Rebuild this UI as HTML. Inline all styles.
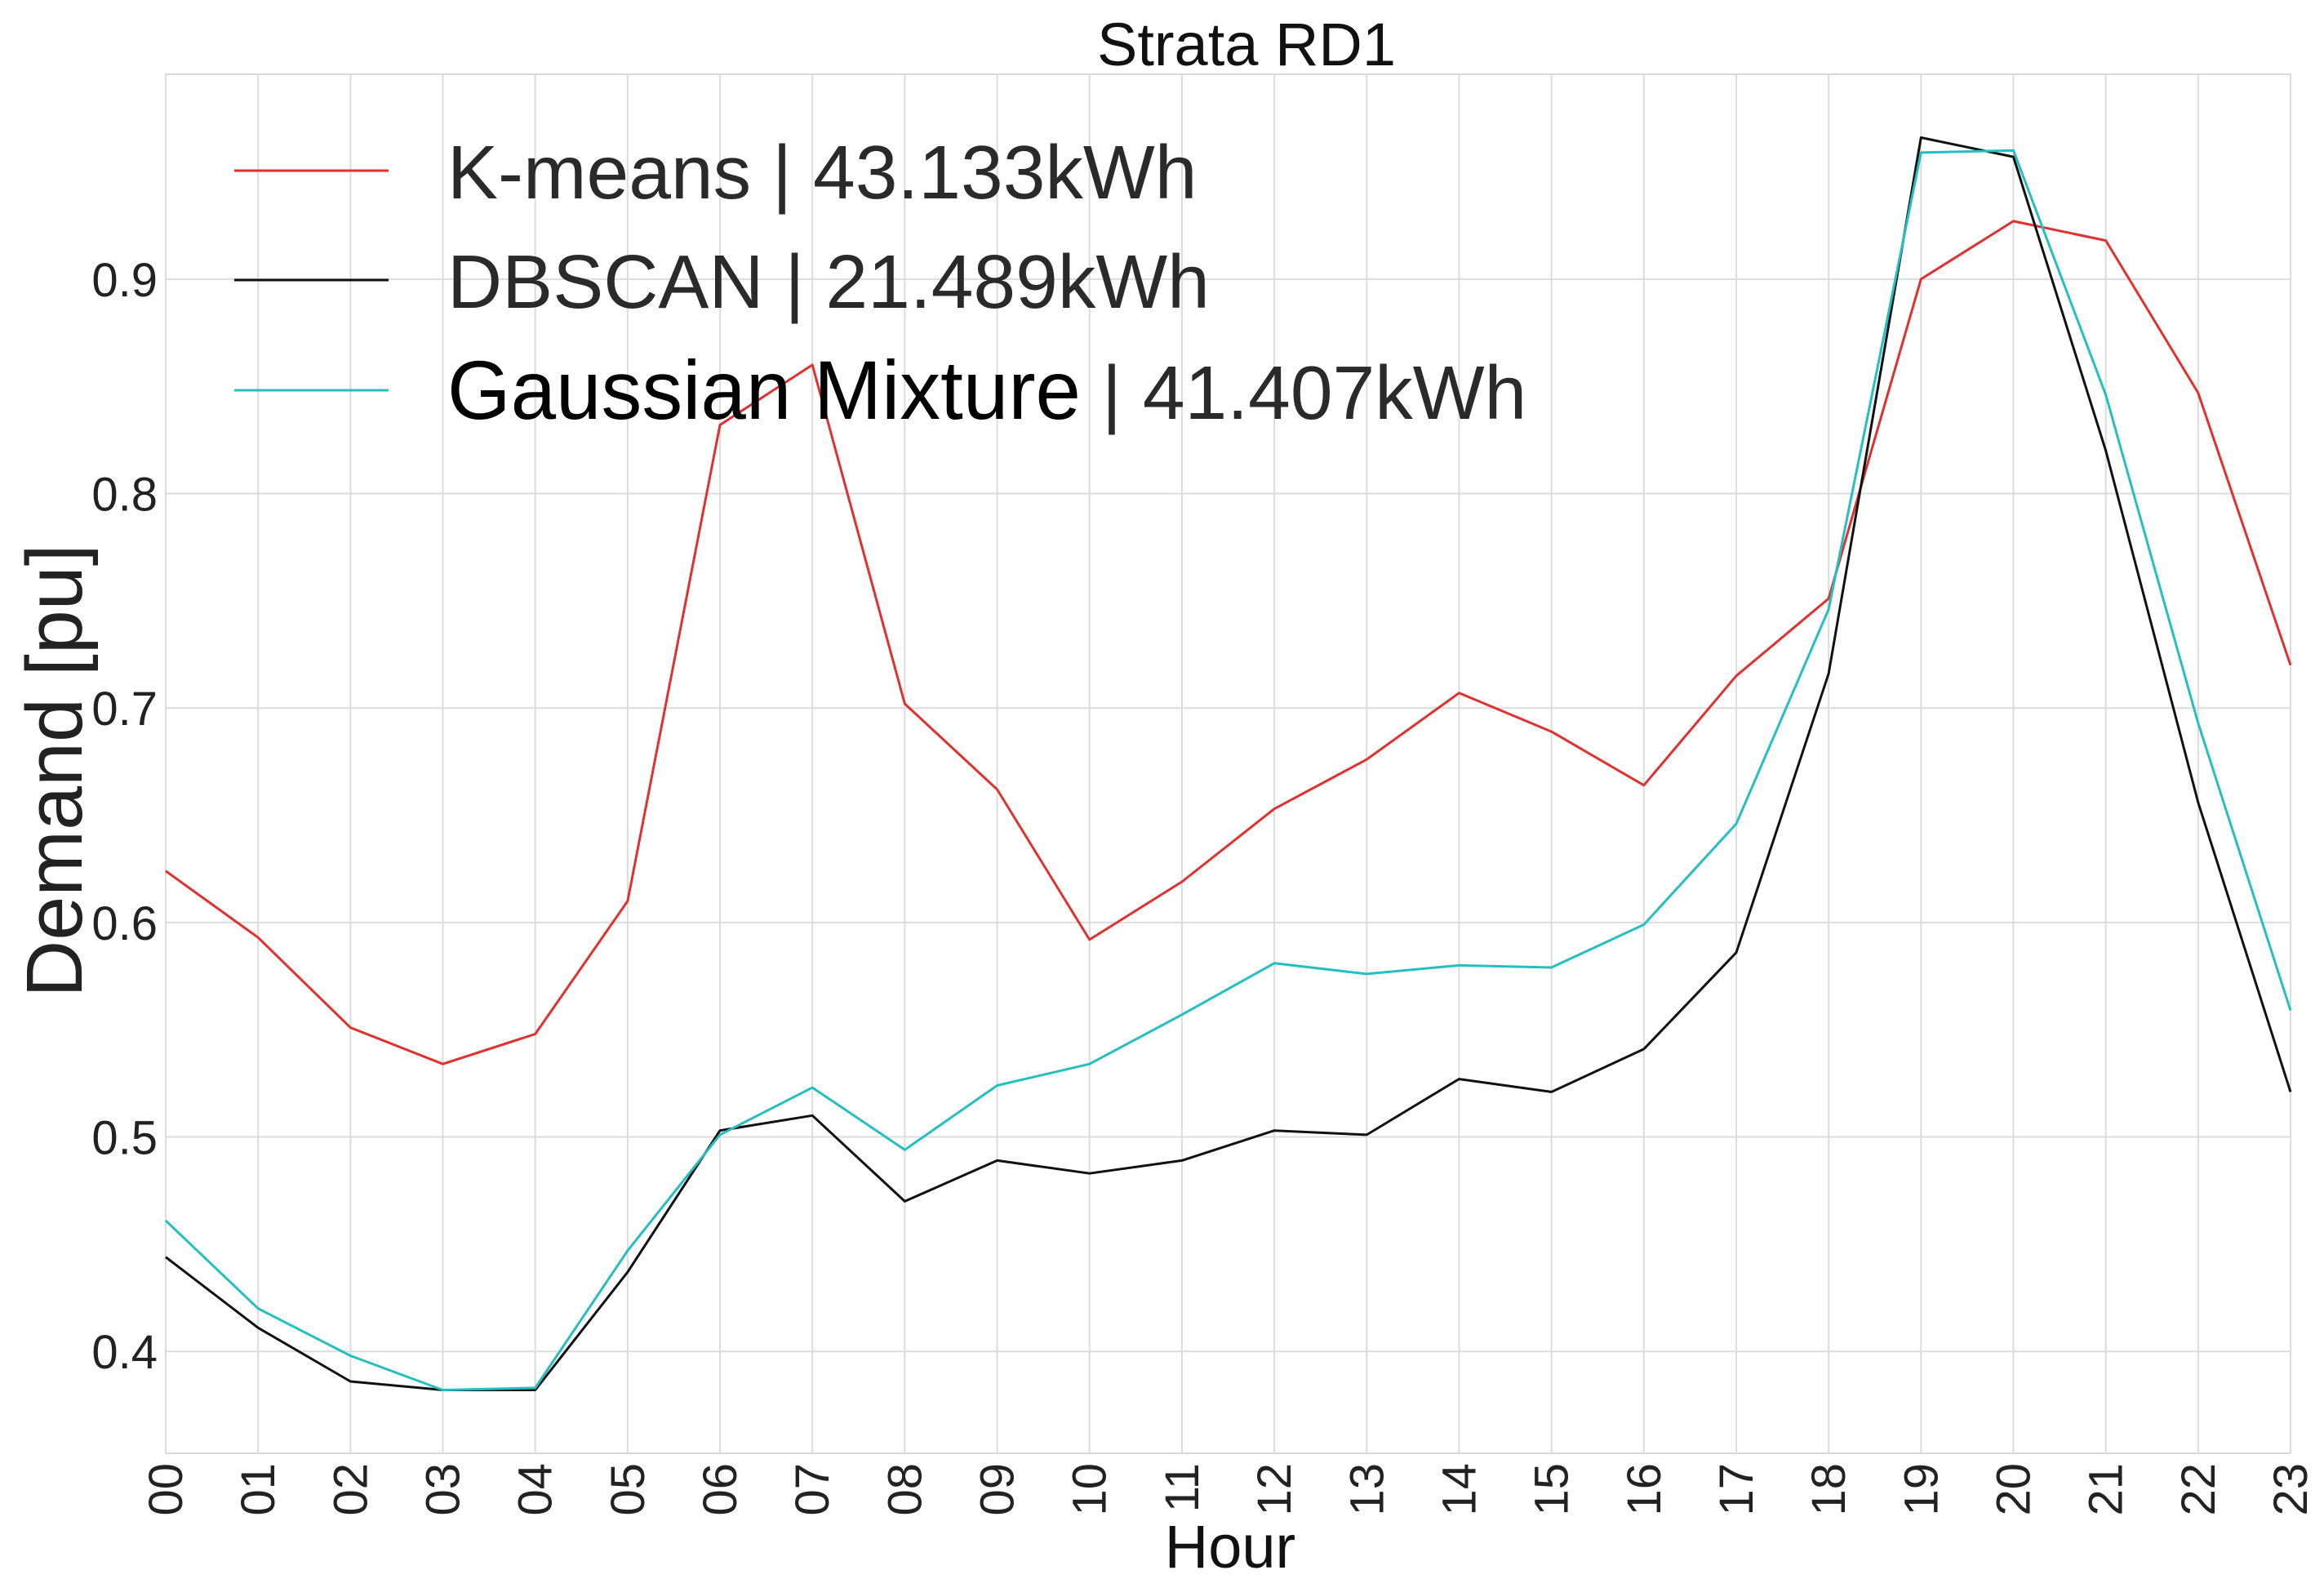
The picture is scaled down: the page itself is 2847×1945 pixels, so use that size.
<!DOCTYPE html>
<html><head><meta charset="utf-8"><style>
html,body{margin:0;padding:0;background:#fff}
svg{display:block;font-family:"Liberation Sans",sans-serif}
</style></head><body>
<svg id="chart" width="2847" height="1945" viewBox="0 0 2847 1945" xmlns="http://www.w3.org/2000/svg">
<rect x="0" y="0" width="2847" height="1945" fill="#fff"/>
<g id="grid"></g>
<g id="series"></g>
<g id="ticks"></g>
<text x="1527" y="80" font-size="74" text-anchor="middle" fill="#111">Strata RD1</text>
<text x="1507" y="1920" font-size="74" text-anchor="middle" fill="#111">Hour</text>
<text transform="translate(100,944) rotate(-90)" font-size="97" text-anchor="middle" fill="#222">Demand  [pu]</text>
<g>
<line x1="287" y1="209" x2="476" y2="209" stroke="#e03131" stroke-width="3"/>
<text x="548" y="243" font-size="93" fill="#2a2a2a">K-means | 43.133kWh</text>
<line x1="287" y1="343" x2="476" y2="343" stroke="#111" stroke-width="3"/>
<text x="548" y="377" font-size="93" fill="#2a2a2a">DBSCAN | 21.489kWh</text>
<line x1="287" y1="478" x2="476" y2="478" stroke="#26bfbf" stroke-width="3"/>
<text x="548" y="513" font-size="93" fill="#000"><tspan font-size="102" textLength="776" lengthAdjust="spacingAndGlyphs">Gaussian Mixture</tspan><tspan fill="#2a2a2a"> | 41.407kWh</tspan></text>
</g>
</svg>
<script>
const hours = ["00","01","02","03","04","05","06","07","08","09","10","11","12","13","14","15","16","17","18","19","20","21","22","23"];
const kmeans = [0.624,0.593,0.551,0.534,0.548,0.610,0.832,0.860,0.702,0.662,0.592,0.619,0.653,0.676,0.707,0.689,0.664,0.715,0.751,0.900,0.927,0.918,0.847,0.720];
const dbscan = [0.444,0.411,0.386,0.382,0.382,0.437,0.503,0.510,0.470,0.489,0.483,0.489,0.503,0.501,0.527,0.521,0.541,0.586,0.716,0.966,0.957,0.820,0.656,0.521];
const gmm = [0.461,0.420,0.398,0.382,0.383,0.447,0.501,0.523,0.494,0.524,0.534,0.557,0.581,0.576,0.580,0.579,0.599,0.646,0.746,0.959,0.960,0.846,0.693,0.559];
const yTicks = [0.4,0.5,0.6,0.7,0.8,0.9];
const yTickLabels = ["0.4","0.5","0.6","0.7","0.8","0.9"];

const NS="http://www.w3.org/2000/svg";
const L=203,R=2806,T=91,B=1780;
const yMin=0.3525,yMax=0.9955;
function xs(i){return L+(R-L)*i/(hours.length-1);}
function ys(v){return B-(v-yMin)/(yMax-yMin)*(B-T);}
function mk(tag,attrs,parent){const e=document.createElementNS(NS,tag);for(const k in attrs)e.setAttribute(k,attrs[k]);parent.appendChild(e);return e;}
const grid=document.getElementById('grid'),ticks=document.getElementById('ticks'),series=document.getElementById('series');
const frame=mk('rect',{x:L,y:T,width:R-L,height:B-T,fill:'none',stroke:'#d9d9d9','stroke-width':2},grid);


hours.forEach((h,i)=>{
  const g=mk('line',{x1:xs(i),x2:xs(i),y1:T,y2:B,stroke:'#dcdcdc','stroke-width':2},grid);
  
  
  const t=mk('text',{transform:`translate(${xs(i)+20},1792) rotate(-90)`,'font-size':58,'text-anchor':'end',fill:'#222'},ticks);
  t.textContent=h;
  
  
});
yTicks.forEach((v,i)=>{
  const g=mk('line',{x1:L,x2:R,y1:ys(v),y2:ys(v),stroke:'#dcdcdc','stroke-width':2},grid);
  
  
  const t=mk('text',{x:L-10,y:ys(v)+21,'font-size':58,'text-anchor':'end',fill:'#222'},ticks);
  t.textContent=yTickLabels[i];
  
  
});
function drawLine(data,color,name){
  const pts=data.map((v,i)=>xs(i).toFixed(1)+','+ys(v).toFixed(1)).join(' ');
  const p=mk('polyline',{points:pts,fill:'none',stroke:color,'stroke-width':3,'stroke-linejoin':'round'},series);
  
  
}
drawLine(kmeans,'#e03131','kmeans-line');
drawLine(dbscan,'#111111','dbscan-line');
drawLine(gmm,'#26bfbf','gmm-line');
</script>
</body></html>
